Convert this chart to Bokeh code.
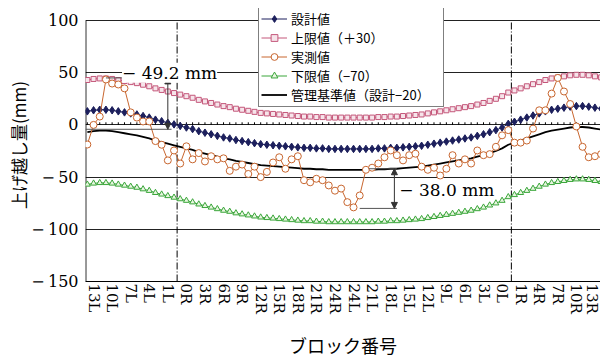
from bokeh.plotting import figure
from bokeh.models import Label, Arrow, NormalHead, Legend, LegendItem, FixedTicker
from bokeh.embed import file_html
from bokeh.resources import INLINE

# ---------------- data ----------------
block_pos = list(range(-1, 83))  # one position per block
tick_pos = list(range(0, 82, 3))
tick_labels = ["13L", "10L", "7L", "4L", "1L", "0R", "3R", "6R", "9R", "12R", "15R", "18R",
               "21R", "24R", "24L", "21L", "18L", "15L", "12L", "9L", "6L", "3L", "0L",
               "1R", "4R", "7R", "10R", "13R"]
pier_pos = [13.5, 67.5]

design = [13, 14, 14.5, 14.5, 14, 13, 12, 11, 10, 8.5, 7, 5, 3.5, 2, 0.5, -1, -2.5, -4, -6,
          -7.5, -9, -10.5, -12, -13, -14.5, -15.5, -16.5, -17.5, -18.5, -19, -19.5, -20,
          -20.5, -21, -21.5, -22, -22, -22.5, -22.5, -23, -23, -23, -23, -23, -23, -23, -23,
          -22.5, -22.5, -22, -22, -21.5, -21, -20.5, -20, -19, -18, -17, -16, -15, -14, -13,
          -12, -10.5, -9, -7, -5, -2.5, 1, 3, 5, 7, 9, 11, 13, 14.5, 15.5, 16.5, 17.5, 18, 18,
          17.5, 16.5, 15.5]
measured = [-18.8, 0, 8, 43.5, 39.6, 38.7, 35, 12, 7, 3.3, 3.3, -15.5, -19, -34, -24.5, -37,
            -20.5, -33, -27, -35, -30, -33, -32, -44, -40, -38, -47, -40, -50, -45, -36, -31,
            -42, -33, -30, -53, -55, -51.6, -53, -58, -63, -61, -74, -79, -67.6, -43, -41,
            -37, -31, -24.5, -29, -34, -29, -27.6, -40, -43, -41, -48.5, -42, -29, -37, -33,
            -37, -24.5, -29, -28, -21, -10, -5, -17, -17, -15, -3.5, 14, 14, 30, 45, 32, 20,
            -1.5, -21, -31, -30, -28]
upper_offset = 30     # 上限値 = 設計 + 30
lower_offset = -70    # 下限値 = 設計 - 70
control_offset = -20  # 管理基準値 = 設計 - 20
upper = [v + upper_offset for v in design]
lower = [v + lower_offset for v in design]
control = [v + control_offset for v in design]

y_ticks = [-150, -100, -50, 0, 50, 100]
y_tick_text = {100: "100", 50: "50", 0: "0", -50: "\u2212\u200950",
               -100: "\u2212\u2009100", -150: "\u2212\u2009150"}

# annotation values
ann1_top, ann1_bot = 45.0, -4.2
ann2_top, ann2_bot = -42.0, -80.0

SERIF = "DejaVu Serif"
JP = "Noto Sans CJK JP"

X0, X1 = -1.3, 81.9
Y0, Y1 = -150, 100
PX_PER_UNIT = 261 / (Y1 - Y0)
HEADROOM = 12                       # room above the 100 line for the legend
FRAME_H = 261 + HEADROOM
p = figure(frame_width=515, frame_height=FRAME_H, output_backend="svg", toolbar_location=None,
           x_range=(X0, X1), y_range=(Y0, Y1 + HEADROOM / PX_PER_UNIT),
           min_border_left=85, min_border_right=0, min_border_top=8, min_border_bottom=77)
p.outline_line_color = None
p.background_fill_color = "white"

# grid
p.xgrid.visible = False
p.ygrid.ticker = FixedTicker(ticks=y_ticks)
p.ygrid.grid_line_color = "#222222"
p.ygrid.grid_line_width = 1

# axes
p.yaxis.ticker = FixedTicker(ticks=y_ticks)
p.yaxis.major_label_overrides = y_tick_text
p.yaxis.major_tick_line_color = None
p.yaxis.minor_tick_line_color = None
p.yaxis.major_tick_out = 0
p.yaxis.major_tick_in = 0
p.yaxis.major_label_text_font = SERIF
p.yaxis.major_label_text_font_size = "16px"
p.yaxis.major_label_text_color = "black"
p.yaxis.major_label_standoff = 7
p.yaxis.axis_label = "上げ越し量(mm)"
p.yaxis.axis_label_text_font = JP
p.yaxis.axis_label_text_font_size = "17px"
p.yaxis.axis_label_text_font_style = "normal"
p.yaxis.axis_label_text_color = "black"
p.yaxis.axis_label_standoff = -3
p.yaxis.axis_line_color = None

p.xaxis.ticker = FixedTicker(ticks=tick_pos)
p.xaxis.major_label_overrides = {k: v for k, v in zip(tick_pos, tick_labels)}
p.xaxis.major_label_orientation = "vertical"
p.xaxis.major_tick_line_color = None
p.xaxis.minor_tick_line_color = None
p.xaxis.major_tick_out = 0
p.xaxis.major_tick_in = 0
p.xaxis.major_label_text_font = SERIF
p.xaxis.major_label_text_font_size = "15px"
p.xaxis.major_label_text_color = "black"
p.xaxis.major_label_standoff = 2
p.xaxis.axis_label = "ブロック番号"
p.xaxis.axis_label_text_font = JP
p.xaxis.axis_label_text_font_size = "18px"
p.xaxis.axis_label_text_font_style = "normal"
p.xaxis.axis_label_text_color = "black"
p.xaxis.axis_label_standoff = 15
p.xaxis.axis_line_color = "black"

# left border (from -150 up to 100 only)
p.segment(x0=[X0 + 0.05], y0=[Y0], x1=[X0 + 0.05], y1=[Y1], line_color="black", line_width=1.2)

# small ticks on the zero line
p.segment(x0=block_pos, y0=[0] * len(block_pos), x1=block_pos, y1=[2.5] * len(block_pos),
          line_color="black", line_width=1)

# pier lines
p.segment(x0=pier_pos, y0=[Y0] * len(pier_pos), x1=pier_pos, y1=[Y1] * len(pier_pos),
          line_color="black", line_width=1, line_dash="7 2 1 2")

NAVY = "#1c1f5c"
PINK = "#c4577a"
ORANGE = "#c8662f"
GREEN = "#3aa63a"

r_ctrl = p.line(block_pos, control, line_color="black", line_width=1.8)

r_low_l = p.line(block_pos, lower, line_color=GREEN, line_width=1)
r_low_m = p.scatter(block_pos, lower, marker="triangle", size=6, line_color=GREEN,
                    fill_color="#e8f5e0", line_width=1)

r_up_l = p.line(block_pos, upper, line_color=PINK, line_width=1)
r_up_m = p.scatter(block_pos, upper, marker="square", size=5, line_color=PINK,
                   fill_color="#f6e4ea", line_width=1)

r_des_l = p.line(block_pos, design, line_color=NAVY, line_width=1)
r_des_m = p.scatter(block_pos, design, marker="diamond", size=7.5, line_color=NAVY,
                    fill_color=NAVY)

r_mea_l = p.line(block_pos, measured, line_color=ORANGE, line_width=1)
r_mea_m = p.scatter(block_pos, measured, marker="circle", size=7, line_color=ORANGE,
                    fill_color="white", line_width=1)

# ---------- annotations ----------
GRAY = "#555555"
p.segment(x0=[2], y0=[ann1_top], x1=[12.2], y1=[ann1_top], line_color=GRAY, line_width=1)
p.segment(x0=[X0], y0=[ann1_bot], x1=[12.6], y1=[ann1_bot], line_color=GRAY, line_width=1)
p.add_layout(Arrow(x_start=12, y_start=ann1_top, x_end=12, y_end=ann1_bot,
                   line_color="#333333", line_width=1,
                   start=NormalHead(size=6, fill_color="#333333", line_color="#333333"),
                   end=NormalHead(size=6, fill_color="#333333", line_color="#333333")))
p.add_layout(Label(x=4.6, y=50, text="\u2212 49.2 mm", text_font=SERIF,
                   text_font_size="17px", text_baseline="middle", text_color="black",
                   background_fill_color="white"))

p.segment(x0=[44.5], y0=[ann2_top], x1=[49.0], y1=[ann2_top], line_color=GRAY, line_width=1)
p.segment(x0=[43.0], y0=[ann2_bot], x1=[49.0], y1=[ann2_bot], line_color=GRAY, line_width=1)
p.add_layout(Arrow(x_start=48.6, y_start=ann2_top, x_end=48.6, y_end=ann2_bot,
                   line_color="#333333", line_width=1,
                   start=NormalHead(size=6, fill_color="#333333", line_color="#333333"),
                   end=NormalHead(size=6, fill_color="#333333", line_color="#333333")))
p.add_layout(Label(x=49.4, y=-62, text="\u2212 38.0 mm", text_font=SERIF,
                   text_font_size="17px", text_baseline="middle", text_color="black",
                   background_fill_color="white"))

# ---------- legend ----------
LEG_FONT = 13
LEG_PAD = 2
legend_h = 5 * LEG_FONT * 1.45 + 2 * LEG_PAD
legend = Legend(items=[
    LegendItem(label="設計値", renderers=[r_des_l, r_des_m]),
    LegendItem(label="上限値（＋30）", renderers=[r_up_l, r_up_m]),
    LegendItem(label="実測値", renderers=[r_mea_l, r_mea_m]),
    LegendItem(label="下限値（−70）", renderers=[r_low_l, r_low_m]),
    LegendItem(label="管理基準値（設計−20）", renderers=[r_ctrl]),
], location=(173, FRAME_H - legend_h - 1))
legend.label_text_font = JP
legend.label_text_font_size = f"{LEG_FONT}px"
legend.label_text_color = "black"
legend.label_height = 17
legend.label_width = 150
legend.glyph_height = 17
legend.glyph_width = 26
legend.label_standoff = 4
legend.spacing = 0
legend.padding = LEG_PAD
legend.margin = 0
legend.border_line_color = "black"
legend.border_line_width = 1
legend.background_fill_color = "white"
legend.background_fill_alpha = 1.0
p.add_layout(legend)

open("out.html", "w").write(file_html(p, INLINE))
